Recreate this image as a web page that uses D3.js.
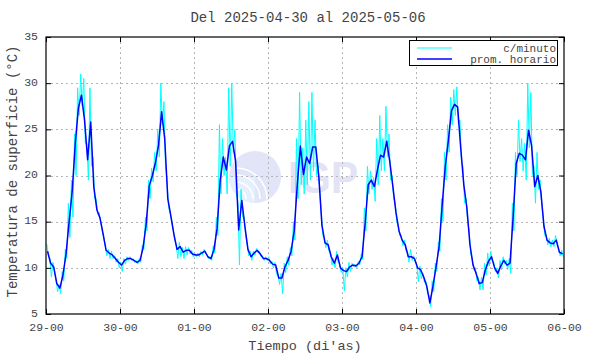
<!DOCTYPE html>
<html>
<head>
<meta charset="utf-8">
<script src="https://cdn.jsdelivr.net/npm/d3@7"></script>
<style>
  body { margin: 0; background: #fff; }
  svg { display: block; }
</style>
</head>
<body>
<div id="chart"></div>
<script>
// hourly averages, one value per hour (7 days x 24)
const promHorario = [
  11.8,10.5,10.1,8.3,7.8,9.2,11.5,15.0,18.3,23.5,27.3,28.7,26.0,21.7,25.8,18.8,16.3,15.4,13.7,11.9,11.6,11.4,11.0,10.6,
  10.3,10.8,11.0,11.0,10.8,10.6,10.8,12.2,14.8,18.9,20.0,21.4,23.3,26.9,24.0,17.5,15.6,13.6,12.0,12.3,11.7,11.9,11.9,11.5,
  11.4,11.4,11.6,11.8,11.2,11.0,12.0,14.3,19.5,22.0,20.6,23.2,23.7,21.5,14.1,17.3,14.5,12.0,11.2,11.6,11.9,11.5,11.0,11.0,
  10.8,10.4,10.3,8.9,8.9,10.1,10.8,11.8,14.0,19.0,23.2,20.1,22.0,21.3,23.1,23.1,19.8,14.6,12.7,12.5,11.2,10.5,11.4,10.0,
  9.7,9.6,10.1,10.3,10.2,10.5,11.2,14.8,19.0,19.5,18.8,20.6,22.2,22.0,23.7,21.5,18.8,16.0,14.0,13.0,12.5,11.2,11.2,11.0,
  10.0,9.8,9.0,8.0,6.2,8.0,10.1,12.3,16.8,21.0,23.8,27.0,27.7,27.4,23.0,19.0,16.5,12.5,10.3,9.4,8.3,8.4,9.8,10.7,
  11.2,10.0,9.4,10.2,10.8,10.3,10.5,15.5,21.3,22.4,22.2,21.7,24.9,23.2,18.8,20.0,18.2,14.5,13.0,12.7,12.6,13.0,11.7,11.5
];

// per-minute readings: highest and lowest value seen in each hour
const minutoMax = [
  12.6,11.0,10.6,8.8,8.2,9.6,12.0,17.0,19.5,24.5,29.5,31.0,30.5,23.5,29.5,22.0,17.5,16.0,14.0,12.3,12.0,11.8,11.3,11.0,
  10.6,11.0,11.2,11.2,11.0,10.8,11.0,12.5,15.5,19.5,20.8,22.5,25.0,30.0,28.0,19.5,16.0,14.2,12.5,12.8,12.2,12.3,12.2,11.9,
  11.6,11.6,11.8,12.0,11.4,11.2,12.4,15.5,25.5,24.0,22.0,29.5,30.0,25.0,17.0,18.5,15.5,12.5,11.8,11.8,12.1,11.8,11.3,11.2,
  11.2,10.7,10.6,9.3,9.4,10.5,11.2,12.2,15.0,24.0,29.0,23.0,26.0,28.0,29.0,26.0,21.0,16.0,13.2,13.0,11.7,11.0,11.8,10.4,
  10.0,10.0,10.6,10.5,10.4,10.7,11.5,16.5,21.0,20.5,19.8,24.0,26.5,24.0,27.5,24.5,20.0,17.0,14.5,13.5,13.0,11.8,12.0,11.3,
  10.4,10.2,9.4,8.5,7.0,8.6,10.5,12.8,17.5,22.5,25.5,28.5,29.3,29.6,26.0,21.0,17.5,14.0,11.0,10.0,9.0,9.0,10.5,11.6,
  11.8,10.6,10.0,10.8,11.2,10.8,11.0,17.0,22.5,26.0,24.0,23.5,30.0,29.0,21.0,22.5,19.5,15.5,13.5,13.2,13.0,13.5,12.1,11.9
];
const minutoMin = [
  11.3,9.0,9.5,7.4,7.2,8.6,11.0,13.3,15.5,20.0,26.5,27.5,23.5,19.5,21.0,17.5,15.8,15.0,13.2,11.3,11.0,11.0,10.6,10.0,
  9.6,10.4,10.8,10.8,10.6,10.4,10.6,12.0,14.0,17.5,19.3,20.5,22.0,25.5,21.0,16.5,15.0,13.0,11.0,11.2,11.0,11.4,11.5,11.2,
  11.2,11.2,11.4,11.6,11.0,10.8,11.6,13.5,18.0,20.0,18.0,21.0,22.5,18.0,10.3,15.5,13.5,11.3,10.8,11.4,11.6,11.2,10.8,10.8,
  10.4,10.0,9.3,8.2,7.2,9.5,10.3,11.3,13.0,17.5,19.0,18.0,19.0,19.5,20.5,20.0,18.5,13.5,12.2,11.8,10.3,10.0,10.6,9.5,
  7.5,9.0,9.6,10.1,10.0,10.3,10.9,14.0,18.0,18.5,17.2,19.0,20.5,20.5,22.0,19.5,17.5,15.0,13.5,12.4,11.8,10.6,10.8,10.6,
  8.5,8.8,8.4,7.2,5.8,7.4,9.6,11.8,15.0,19.5,22.5,25.5,26.5,25.5,21.5,17.0,15.0,11.5,9.8,8.6,7.6,7.6,9.2,10.2,
  10.7,9.6,8.9,9.8,10.4,9.8,9.4,14.0,20.0,21.5,20.5,19.5,23.0,20.0,17.0,18.5,17.0,13.5,12.5,12.3,12.3,12.5,11.3,11.2
];

const dayLabels = ['29-00','30-00','01-00','02-00','03-00','04-00','05-00','06-00'];
const yTicks = [5, 10, 15, 20, 25, 30, 35];

const width = 590;
const height = 354;
const margin = {top: 37, right: 26, bottom: 40, left: 46};
const font = '"Liberation Mono", "DejaVu Sans Mono", monospace';
const textColour = '#444';

const svg = d3.select('#chart')
    .append('svg')
        .attr('width', width)
        .attr('height', height);

// SCALES
const x = d3.scaleLinear()
    .domain([0, dayLabels.length - 1])
    .range([margin.left, width - margin.right]);
const xh = d3.scaleLinear()
    .domain([0, 24 * (dayLabels.length - 1)])
    .range([margin.left, width - margin.right]);
const y = d3.scaleLinear()
    .domain([5, 35])
    .range([height - margin.bottom, margin.top]);

// watermark logo
const logo = svg.append('g').attr('opacity', 0.9);
logo.append('circle')
    .attr('cx', 255).attr('cy', 177).attr('r', 26)
    .attr('fill', '#dfe2f7');
logo.append('path')
    .attr('d', 'M229,177 A26,26 0 0,0 255,203 L255,177 Z')
    .attr('fill', '#e3effd');
[10, 17, 24, 31].forEach(r => {
    logo.append('path')
        .attr('d', `M${236 + r},${199} A${r},${r} 0 0,0 ${236},${199 - r}`)
        .attr('fill', 'none')
        .attr('stroke', '#fff')
        .attr('stroke-width', 1.6);
});
logo.append('text')
    .attr('x', 288).attr('y', 193)
    .attr('font-family', 'Arial, "Liberation Sans", sans-serif')
    .attr('font-weight', 'bold')
    .attr('font-size', 45)
    .attr('textLength', 70)
    .attr('lengthAdjust', 'spacingAndGlyphs')
    .attr('fill', '#e0e0f5')
    .text('IGP');

// GRID
const grid = svg.append('g')
    .attr('stroke', '#b4b4b4')
    .attr('stroke-width', 1)
    .attr('stroke-dasharray', '2 3');
grid.selectAll('.gx')
    .data(d3.range(1, dayLabels.length - 1))
    .join('line')
        .attr('x1', d => Math.round(x(d)) + 0.5)
        .attr('x2', d => Math.round(x(d)) + 0.5)
        .attr('y1', y(35))
        .attr('y2', y(5));
grid.selectAll('.gy')
    .data(yTicks.slice(1, -1))
    .join('line')
        .attr('y1', d => Math.round(y(d)) + 0.5)
        .attr('y2', d => Math.round(y(d)) + 0.5)
        .attr('x1', x(0))
        .attr('x2', x(dayLabels.length - 1));

// per-minute line (hourly extremes)
const minutePts = [];
minutoMax.forEach((d, i) => {
    minutePts.push([i + 0.25, d]);
    minutePts.push([i + 0.75, minutoMin[i]]);
});
const line = d3.line()
    .x(d => xh(d[0]))
    .y(d => y(d[1]));

svg.append('path')
    .datum(minutePts)
        .attr('fill', 'none')
        .attr('stroke', '#00ffff')
        .attr('stroke-width', 1)
        .attr('d', line);

// hourly mean line
svg.append('path')
    .datum(promHorario.map((d, i) => [i + 0.5, d]))
        .attr('fill', 'none')
        .attr('stroke', '#0000ff')
        .attr('stroke-width', 1.5)
        .attr('stroke-linejoin', 'round')
        .attr('d', line);

// AXES
const styleAxis = g => g
    .call(g => g.select('.domain').remove())
    .call(g => g.selectAll('.tick line').attr('stroke', '#000'))
    .call(g => g.selectAll('.tick text')
        .attr('font-family', font)
        .attr('font-size', 11.5)
        .attr('fill', textColour));

svg.append('g')
    .attr('transform', `translate(0,${height - margin.bottom})`)
    .call(d3.axisBottom(x)
        .tickValues(d3.range(dayLabels.length))
        .tickFormat(i => dayLabels[i])
        .tickSize(-5)
        .tickPadding(9))
    .call(styleAxis);
svg.append('g')
    .attr('transform', `translate(0,${margin.top})`)
    .call(d3.axisTop(x)
        .tickValues(d3.range(dayLabels.length))
        .tickFormat('')
        .tickSize(-5))
    .call(styleAxis);
svg.append('g')
    .attr('transform', `translate(${margin.left},0)`)
    .call(d3.axisLeft(y)
        .tickValues(yTicks)
        .tickSize(-5)
        .tickPadding(8))
    .call(styleAxis)
    .call(g => g.selectAll('.tick text').attr('dy', '0.2em'));
svg.append('g')
    .attr('transform', `translate(${width - margin.right},0)`)
    .call(d3.axisRight(y)
        .tickValues(yTicks)
        .tickFormat('')
        .tickSize(-5))
    .call(styleAxis);

// frame
svg.append('rect')
    .attr('x', margin.left)
    .attr('y', margin.top)
    .attr('width', width - margin.left - margin.right)
    .attr('height', height - margin.top - margin.bottom)
    .attr('fill', 'none')
    .attr('stroke', '#000')
    .attr('stroke-width', 1.2);

// LABELS
svg.append('text')
    .attr('x', 308).attr('y', 22)
    .attr('text-anchor', 'middle')
    .attr('font-family', font)
    .attr('font-size', 14)
    .attr('fill', textColour)
    .text('Del 2025-04-30 al 2025-05-06');
svg.append('text')
    .attr('x', 305).attr('y', 350)
    .attr('text-anchor', 'middle')
    .attr('font-family', font)
    .attr('font-size', 13.5)
    .attr('fill', textColour)
    .text("Tiempo (di'as)");
svg.append('text')
    .attr('transform', `translate(17,${(margin.top + height - margin.bottom) / 2 - 4}) rotate(-90)`)
    .attr('text-anchor', 'middle')
    .attr('font-family', font)
    .attr('font-size', 14)
    .attr('fill', textColour)
    .text('Temperatura de superficie (°C)');

// LEGEND
const legend = svg.append('g');
legend.append('rect')
    .attr('x', 409.5).attr('y', 40.5)
    .attr('width', 148).attr('height', 25)
    .attr('fill', '#fff')
    .attr('stroke', '#000')
    .attr('stroke-width', 1);
const items = [
    {label: 'c/minuto', color: '#00ffff', w: 1},
    {label: 'prom. horario', color: '#0000ff', w: 1.5}
];
items.forEach((it, i) => {
    const ly = 48 + i * 11;
    legend.append('line')
        .attr('x1', 417).attr('x2', 452)
        .attr('y1', ly).attr('y2', ly)
        .attr('stroke', it.color)
        .attr('stroke-width', it.w);
    legend.append('text')
        .attr('x', 556).attr('y', ly + 3.5)
        .attr('text-anchor', 'end')
        .attr('font-family', font)
        .attr('font-size', 11)
        .attr('fill', textColour)
        .text(it.label);
});
</script>
</body>
</html>
